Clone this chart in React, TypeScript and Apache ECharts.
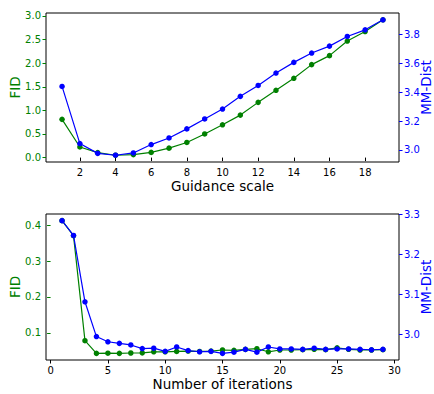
import React, { useEffect, useRef } from "react";
import * as echarts from "echarts";

const guidanceScale = [1, 2, 3, 4, 5, 6, 7, 8, 9, 10, 11, 12, 13, 14, 15, 16, 17, 18, 19];
const guidanceFID = [0.81, 0.225, 0.105, 0.05, 0.063, 0.11, 0.2, 0.32, 0.5, 0.695, 0.9, 1.17, 1.425, 1.68, 1.97, 2.16, 2.47, 2.67, 2.92];
const guidanceMM = [3.441, 3.044, 2.976, 2.963, 2.979, 3.037, 3.083, 3.146, 3.215, 3.284, 3.372, 3.448, 3.534, 3.608, 3.673, 3.721, 3.788, 3.834, 3.904];

const iterations = [1, 2, 3, 4, 5, 6, 7, 8, 9, 10, 11, 12, 13, 14, 15, 16, 17, 18, 19, 20, 21, 22, 23, 24, 25, 26, 27, 28, 29];
const iterFID = [0.413, 0.371, 0.078, 0.0426, 0.043, 0.0426, 0.0436, 0.044, 0.047, 0.047, 0.048, 0.049, 0.048, 0.049, 0.052, 0.051, 0.0537, 0.0556, 0.047, 0.052, 0.052, 0.053, 0.054, 0.053, 0.058, 0.054, 0.052, 0.052, 0.053];
const iterMM = [3.285, 3.248, 3.082, 2.995, 2.982, 2.978, 2.974, 2.965, 2.966, 2.958, 2.969, 2.96, 2.957, 2.958, 2.953, 2.956, 2.963, 2.956, 2.969, 2.964, 2.964, 2.963, 2.966, 2.963, 2.964, 2.964, 2.963, 2.962, 2.963];

const topXTicks = [2, 4, 6, 8, 10, 12, 14, 16, 18];
const topFIDTicks = [0, 0.5, 1, 1.5, 2, 2.5, 3];
const topMMTicks = [3.0, 3.2, 3.4, 3.6, 3.8];
const botXTicks = [0, 5, 10, 15, 20, 25, 30];
const botFIDTicks = [0.1, 0.2, 0.3, 0.4];
const botMMTicks = [3.0, 3.1, 3.2, 3.3];

const GREEN = "#008000";
const BLUE = "#0000ff";
const FONT = "DejaVu Sans";

function range(v: number[]) {
  const lo = Math.min(...v);
  const hi = Math.max(...v);
  const m = (hi - lo) * 0.05;
  return { min: lo - m, max: hi + m };
}

function xAxis(grid: number, vals: number[], ticks: number[], name: string, dec: number) {
  const r = range(vals);
  return {
    type: "value",
    gridIndex: grid,
    min: r.min,
    max: r.max,
    name,
    nameLocation: "middle",
    nameGap: 17,
    nameMoveOverlap: false,
    nameTextStyle: { fontFamily: FONT, fontSize: 13.5, color: "#000" },
    splitLine: { show: false },
    axisLine: { show: false },
    axisTick: { show: true, length: 3.5, customValues: ticks, lineStyle: { color: "#000" } },
    axisLabel: {
      customValues: ticks,
      margin: 5,
      fontFamily: FONT,
      fontSize: 10,
      color: "#000",
      formatter: (v: number) => v.toFixed(dec),
    },
  };
}

function yAxis(grid: number, vals: number[], ticks: number[], name: string, color: string, pos: string, dec: number, gap: number) {
  const r = range(vals);
  return {
    type: "value",
    gridIndex: grid,
    position: pos,
    min: r.min,
    max: r.max,
    name,
    nameLocation: "middle",
    nameGap: gap,
    nameMoveOverlap: false,
    nameTextStyle: { fontFamily: FONT, fontSize: 13.5, color },
    splitLine: { show: false },
    axisLine: { show: false },
    axisTick: { show: true, length: 3.5, customValues: ticks, lineStyle: { color } },
    axisLabel: {
      customValues: ticks,
      margin: 5,
      fontFamily: FONT,
      fontSize: 10,
      color,
      formatter: (v: number) => v.toFixed(dec),
    },
  };
}

function line(xs: number[], ys: number[], xi: number, yi: number, color: string, z: number) {
  return {
    type: "line",
    xAxisIndex: xi,
    yAxisIndex: yi,
    data: xs.map((x, i) => [x, ys[i]]),
    symbol: "circle",
    symbolSize: 5.5,
    showSymbol: true,
    lineStyle: { color, width: 1.2 },
    itemStyle: { color },
    z,
  };
}

export default function App() {
  const ref = useRef<HTMLDivElement>(null);
  useEffect(() => {
    if (!ref.current) return;
    const chart = echarts.init(ref.current, undefined, { renderer: "svg" });
    chart.setOption({
      animation: false,
      backgroundColor: "#fff",
      grid: [
        { left: 46, right: 35, top: 13, height: 149, show: true, borderColor: "#000", borderWidth: 1, backgroundColor: "transparent", containLabel: false, outerBoundsMode: "none" },
        { left: 46, right: 35, top: 214, height: 146, show: true, borderColor: "#000", borderWidth: 1, backgroundColor: "transparent", containLabel: false, outerBoundsMode: "none" },
      ],
      xAxis: [
        xAxis(0, guidanceScale, topXTicks, "Guidance scale", 0),
        xAxis(1, iterations, botXTicks, "Number of iterations", 0),
      ],
      yAxis: [
        yAxis(0, guidanceFID, topFIDTicks, "FID", GREEN, "left", 1, 24),
        yAxis(0, guidanceMM, topMMTicks, "MM-Dist", BLUE, "right", 1, 20),
        yAxis(1, iterFID, botFIDTicks, "FID", GREEN, "left", 1, 24),
        yAxis(1, iterMM, botMMTicks, "MM-Dist", BLUE, "right", 1, 20),
      ],
      series: [
        line(guidanceScale, guidanceFID, 0, 0, GREEN, 2),
        line(guidanceScale, guidanceMM, 0, 1, BLUE, 3),
        line(iterations, iterFID, 1, 2, GREEN, 2),
        line(iterations, iterMM, 1, 3, BLUE, 3),
      ],
    });
    return () => chart.dispose();
  }, []);
  return <div ref={ref} style={{ position: "fixed", left: 0, top: 0, width: 434, height: 394 }} />;
}
